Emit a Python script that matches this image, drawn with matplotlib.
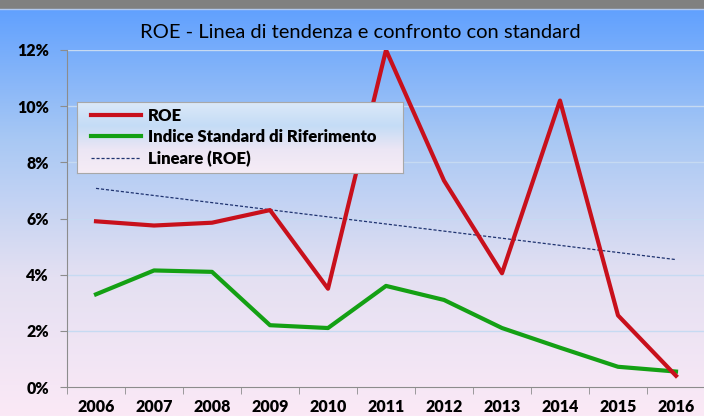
import numpy as np
import matplotlib
matplotlib.use("Agg")
import matplotlib.pyplot as plt
from matplotlib.colors import LinearSegmentedColormap

# dati
anni = ["2006", "2007", "2008", "2009", "2010", "2011", "2012", "2013", "2014", "2015", "2016"]
roe = [5.9, 5.75, 5.85, 6.3, 3.5, 12.0, 7.35, 4.05, 10.2, 2.55, 0.4]
standard = [3.3, 4.15, 4.1, 2.2, 2.1, 3.6, 3.1, 2.1, 1.4, 0.72, 0.55]
y_ticks = [0, 2, 4, 6, 8, 10, 12]

plt.rcParams['font.family'] = ['Lato', 'DejaVu Sans']

fig = plt.figure(figsize=(7.04, 4.16), dpi=100)

# sfondo sfumato blu -> rosa
bg = fig.add_axes([0, 0, 1, 1], zorder=0)
cmap = LinearSegmentedColormap.from_list("bg", ["#5c9eff", "#a8c8f4", "#e4e0f2", "#fbe9f6"])
grad = np.linspace(0, 1, 256).reshape(-1, 1)
bg.imshow(grad, aspect="auto", cmap=cmap, extent=[0, 1, 0, 1], origin="upper")
bg.axhspan(0.981, 1.0, color="#808080")
bg.axhline(0.979, color="#b0c8f0", lw=1)
bg.set_xlim(0, 1)
bg.set_ylim(0, 1)
bg.axis("off")

# area del grafico
ax = fig.add_axes([67 / 704, 1 - 387 / 416, 638 / 704, 337 / 416], zorder=1)
ax.patch.set_alpha(0)
x = np.arange(len(anni))

ax.plot(x, roe, color="#c8101c", lw=3, label="ROE", zorder=4)
ax.plot(x, standard, color="#14a014", lw=3, label="Indice Standard di Riferimento", zorder=3)
# linea di tendenza lineare su ROE
coef = np.polyfit(x, roe, 1)
ax.plot(x, np.polyval(coef, x), color="#1f3370", lw=0.9, ls=(0, (2.5, 1.5)),
        label="Lineare (ROE)", zorder=2)

ax.set_xlim(-0.5, len(anni) - 0.5)
ax.set_ylim(0, 12)
ax.set_yticks(y_ticks)
ax.set_yticklabels([f"{v}%" for v in y_ticks], fontsize=11.5, fontweight="heavy")
ax.set_xticks(x)
ax.set_xticklabels(anni, fontsize=11.5, fontweight="heavy")
ax.set_xticks(np.arange(-0.5, len(anni)), minor=True)
ax.tick_params(axis="x", which="major", length=0, pad=9)
ax.tick_params(axis="x", which="minor", length=5, color="#8c8c8c")
ax.tick_params(axis="y", length=5, color="#8c8c8c", pad=8)
for v in y_ticks[1:]:
    ax.axhline(v, color="#c6daf2", lw=1, zorder=1)

for s in ["top", "right"]:
    ax.spines[s].set_visible(False)
ax.spines["left"].set_color("#8c8c8c")
ax.spines["bottom"].set_color("#8c8c8c")

# riquadro legenda con sfumatura
lax = fig.add_axes([77 / 704, 1 - 173 / 416, 326 / 704, 71 / 416], zorder=2)
lcmap = LinearSegmentedColormap.from_list("leg", ["#dce9f8", "#c4dcf6", "#ece6f4", "#f6ecf6"])
lax.imshow(grad, aspect="auto", cmap=lcmap, extent=[0, 1, 0, 1], origin="upper")
lax.set_xlim(0, 1)
lax.set_ylim(0, 1)
lax.set_xticks([])
lax.set_yticks([])
for s in lax.spines.values():
    s.set_color("#a8a8a8")

handles, labels = ax.get_legend_handles_labels()
lax.legend(handles, labels, loc="center left", bbox_to_anchor=(14 / 326, 0.5),
           frameon=False, prop={"weight": "heavy", "size": 12},
           handlelength=3.0, borderpad=0, labelspacing=0.33, handletextpad=0.42,
           borderaxespad=0)

fig.text(360 / 704, 1 - 32 / 416, "ROE - Linea di tendenza e confronto con standard",
         ha="center", va="center", fontsize=14.5)

fig.savefig("out.png", dpi=100)
